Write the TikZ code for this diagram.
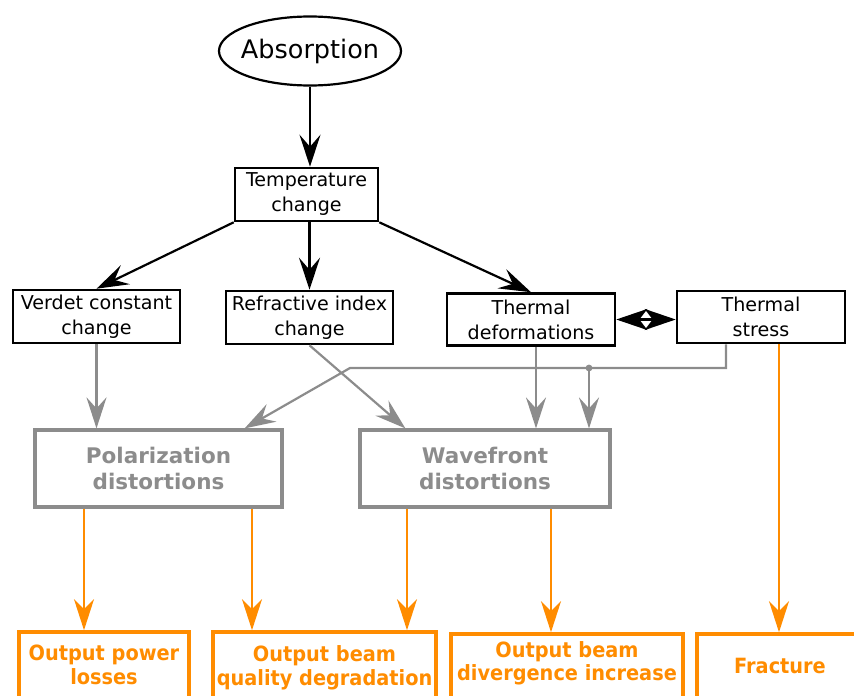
\documentclass[tikz,border=0pt]{standalone}
\usepackage{fontspec}
\setmainfont{DejaVu Sans}
\newfontfamily\condfont[FakeStretch=0.92]{DejaVu Sans}
\usetikzlibrary{shapes.geometric,arrows.meta,calc}
\definecolor{og}{RGB}{255,140,0}
\definecolor{gr}{RGB}{140,140,140}
\begin{document}
\begin{tikzpicture}[x=1pt,y=-1pt,
 bbox/.style={draw=black,line width=2.6pt,align=center,inner sep=0pt,font=\fontsize{19.1}{25}\selectfont},
 gbox/.style={draw=gr,line width=3.2pt,align=center,inner sep=0pt,text=gr,font=\fontsize{21.5}{26}\selectfont\bfseries},
 obox/.style={draw=og,line width=3.6pt,align=center,inner sep=0pt,text=og,font=\condfont\fontsize{21}{23.5}\selectfont\bfseries},
 otext/.style={align=center,inner sep=0pt,text=og,font=\condfont\fontsize{21}{23.5}\selectfont\bfseries},
 barr/.style={draw=black,line width=2.2pt,-{Stealth[length=32pt,width=21pt,inset=12pt]}},
 dblarr/.style={draw=black,line width=2.2pt,{Stealth[length=31pt,width=21pt,inset=8pt]}-{Stealth[length=31pt,width=21pt,inset=8pt]}},
 garr/.style={draw=gr,line width=2.2pt,-{Stealth[length=31pt,width=20pt,inset=11pt]}},
 oarr/.style={draw=og,line width=2.2pt,-{Stealth[length=31pt,width=20pt,inset=10pt]}},
]
\useasboundingbox (0,0) rectangle (854,696);
\clip (0,0) rectangle (854,696);

\node[ellipse,draw=black,line width=2.2pt,minimum width=182pt,minimum height=69pt,inner sep=0pt,font=\fontsize{25.5}{28}\selectfont] (abs) at (310,51) {\makebox[0pt]{Absorption}};

\node[bbox,minimum width=143pt,minimum height=53pt] (temp) at (306.5,194.5) {Temperature\\change};
\node[bbox,minimum width=167pt,minimum height=53pt] (verdet) at (96.5,316.5) {Verdet constant\\change};
\node[bbox,minimum width=167pt,minimum height=53pt] (ref) at (309.5,317.5) {Refractive index\\change};
\node[bbox,minimum width=168pt,minimum height=52pt] (tdef) at (531,319.5) {Thermal\\deformations};
\node[bbox,minimum width=168pt,minimum height=52pt] (tstress) at (761,317) {Thermal\\stress};

\node[gbox,minimum width=247pt,minimum height=77pt] (pol) at (158.5,468.5) {Polarization\\distortions};
\node[gbox,minimum width=250pt,minimum height=77pt] (wave) at (485,468.5) {Wavefront\\distortions};

\node[obox,minimum width=170pt,minimum height=66pt] (loss) at (104,665) {Output power\\losses};
\node[obox,minimum width=223pt,minimum height=72pt] (qual) at (324.5,668) {Output beam\\quality degradation};
\node[obox,minimum width=232pt,minimum height=64pt,
  label={[otext,yshift=2.5pt]center:Output beam\\divergence increase}] (div) at (567,666) {};
\node[obox,minimum width=166pt,minimum height=64pt] (frac) at (780,666) {Fracture};

% black connectors
\draw[barr] (abs) -- (abs |- temp.north);
\draw[barr] (temp.south west) -- (verdet.north);
\draw[barr] (ref.north |- temp.south) -- (ref.north);
\draw[barr] (temp.south east) -- (tdef.north);
\draw[dblarr] (tdef.east) -- (tdef.east -| tstress.west);

% gray connectors
\coordinate (bend) at (350,368);
\coordinate (j) at (589,368);
\coordinate (polin) at ($(pol.north east)+(-39,0)$);
\coordinate (wavein) at ($(wave.north west)+(47,0)$);
\draw[garr] (verdet.south) -- (verdet.south |- pol.north);
\draw[garr] (ref.south) -- (wavein);
\draw[garr] ([xshift=5pt]tdef.south) -- ([xshift=5pt]tdef.south |- wave.north);
\draw[garr] ([xshift=-35pt]tstress.south) |- (bend) -- (polin);
\fill[gr] (j) circle (3.4pt);
\draw[garr] (j) -- (j |- wave.north);

% orange connectors
\draw[oarr] ([xshift=-74.5pt]pol.south) -- ([xshift=-74.5pt]pol.south |- loss.north);
\draw[oarr] ([xshift=93.5pt]pol.south) -- ([xshift=93.5pt]pol.south |- qual.north);
\draw[oarr] ([xshift=-78pt]wave.south) -- ([xshift=-78pt]wave.south |- qual.north);
\draw[oarr] ([xshift=66pt]wave.south) -- ([xshift=66pt]wave.south |- div.north);
\draw[oarr] ([xshift=18pt]tstress.south) -- ([xshift=18pt]tstress.south |- frac.north);
\end{tikzpicture}
\end{document}
